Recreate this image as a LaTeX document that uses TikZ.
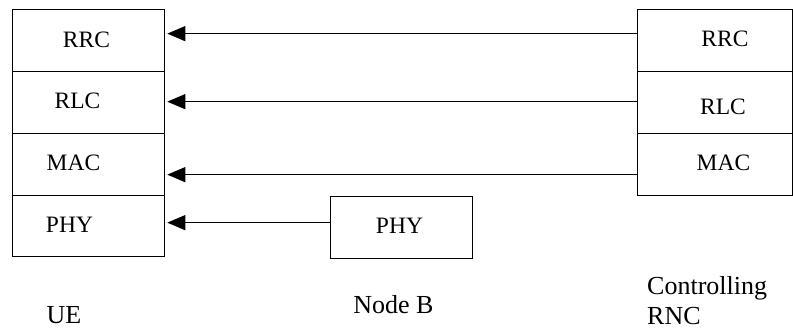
\documentclass[tikz,border=0pt]{standalone}
\usepackage{fontspec}
\setmainfont{Liberation Serif}
\usetikzlibrary{arrows.meta}

\tikzset{
  layer/.style={draw, line width=1.3pt, rectangle, inner sep=0pt, anchor=north west},
  layertext/.style={anchor=base, inner sep=0pt, font=\fontsize{23.5}{27}\selectfont},
  entity/.style={anchor=base, inner sep=0pt, font=\fontsize{26}{30}\selectfont},
  sig/.style={line width=1.2pt, -{Triangle[length=18pt,width=15pt]}, shorten >=2pt}
}

\begin{document}
\begin{tikzpicture}[x=1pt,y=1pt,yscale=-1,xscale=1]
\useasboundingbox (0,0) rectangle (793,329);

% UE stack
\node [layer, minimum width=152pt, minimum height=62pt] (ue-rrc) at (12,9) {};
\node [layer, minimum width=152pt, minimum height=62pt] (ue-rlc) at (12,71) {};
\node [layer, minimum width=152pt, minimum height=62pt] (ue-mac) at (12,133) {};
\node [layer, minimum width=152pt, minimum height=61pt] (ue-phy) at (12,195) {};

% Node B
\node [layer, minimum width=142pt, minimum height=62pt] (nb-phy) at (330,196) {};

% Controlling RNC stack
\node [layer, minimum width=155pt, minimum height=62pt] (rnc-rrc) at (637,9) {};
\node [layer, minimum width=155pt, minimum height=62pt] (rnc-rlc) at (637,71) {};
\node [layer, minimum width=155pt, minimum height=62pt] (rnc-mac) at (637,133) {};

% Layer texts
\node [layertext] (t-ue-rrc) at (86.5,48) {RRC};
\node [layertext] (t-ue-rlc) at (77.5,108.5) {RLC};
\node [layertext] (t-ue-mac) at (73.5,170) {MAC};
\node [layertext] (t-ue-phy) at (69.5,232) {PHY};
\node [layertext] (t-nb-phy) at (399.5,233) {PHY};
\node [layertext] (t-rnc-rrc) at (725,47) {RRC};
\node [layertext] (t-rnc-rlc) at (723,114) {RLC};
\node [layertext] (t-rnc-mac) at (723.5,170) {MAC};

% Peer connections
\draw [sig] ([yshift=-7pt]rnc-rrc.west) -- ([yshift=-7pt]ue-rrc.east);
\draw [sig] ([yshift=-1pt]rnc-rlc.west) -- ([yshift=-1pt]ue-rlc.east);
\draw [sig] ([yshift=10pt]rnc-mac.west) -- ([yshift=10pt]ue-mac.east);
\draw [sig] ([yshift=-5pt]nb-phy.west) -- ([yshift=-5pt]nb-phy.west -| ue-phy.east);

% Entity names
\node [entity] (lbl-ue) at (64,323) {UE};
\node [entity] (lbl-nb) at (393.5,313) {Node B};
\node [entity, anchor=north west, align=left] (lbl-rnc) at (647,276) {Controlling\\RNC};

\end{tikzpicture}
\end{document}
